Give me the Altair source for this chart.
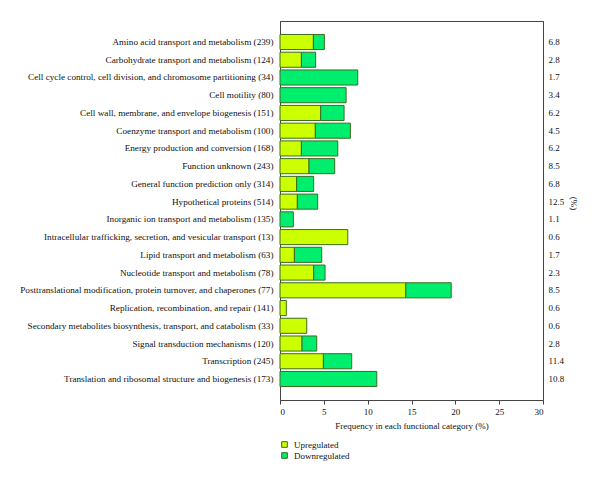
import json
import altair as alt
import pandas as pd

categories = [
    "Amino acid transport and metabolism (239)",
    "Carbohydrate transport and metabolism (124)",
    "Cell cycle control, cell division, and chromosome partitioning (34)",
    "Cell motility (80)",
    "Cell wall, membrane, and envelope biogenesis (151)",
    "Coenzyme transport and metabolism (100)",
    "Energy production and conversion (168)",
    "Function unknown (243)",
    "General function prediction only (314)",
    "Hypothetical proteins (514)",
    "Inorganic ion transport and metabolism (135)",
    "Intracellular trafficking, secretion, and vesicular transport (13)",
    "Lipid transport and metabolism (63)",
    "Nucleotide transport and metabolism (78)",
    "Posttranslational modification, protein turnover, and chaperones (77)",
    "Replication, recombination, and repair (141)",
    "Secondary metabolites biosynthesis, transport, and catabolism (33)",
    "Signal transduction mechanisms (120)",
    "Transcription (245)",
    "Translation and ribosomal structure and biogenesis (173)",
]
upregulated = [3.81, 2.44, 0, 0, 4.64, 4.03, 2.44, 3.31, 1.90, 1.98,
               0, 7.73, 1.64, 3.84, 14.35, 0.72, 3.05, 2.51, 4.95, 0]
downregulated = [1.25, 1.63, 8.87, 7.54, 2.67, 4.00, 4.15, 2.93, 1.94, 2.32,
                 1.52, 0, 3.12, 1.30, 5.18, 0, 0, 1.68, 3.23, 11.04]
percent_labels = ["6.8", "2.8", "1.7", "3.4", "6.2", "4.5", "6.2", "8.5", "6.8", "12.5",
                  "1.1", "0.6", "1.7", "2.3", "8.5", "0.6", "0.6", "2.8", "11.4", "10.8"]
series = ["Upregulated", "Downregulated"]
colors = ["#ccff00", "#00ee6e"]

rows = []
for c, u, d in zip(categories, upregulated, downregulated):
    if u > 0:
        rows.append({"category": c, "series": "Upregulated", "order": 0, "value": u})
    if d > 0:
        rows.append({"category": c, "series": "Downregulated", "order": 1, "value": d})
df = pd.DataFrame(rows)

FONT = "Liberation Serif"
FS = 9

y_scale = alt.Scale(domain=categories, paddingInner=0.15, paddingOuter=0.76)
x_scale = alt.Scale(domain=[0, 30], nice=False)
x_axis = alt.Axis(title="Frequency in each functional category (%)",
                  values=[0, 5, 10, 15, 20, 25, 30], grid=False,
                  tickSize=4, labelPadding=3, titlePadding=5)

bars = alt.Chart(df).mark_bar(stroke="#3d6b1f", strokeWidth=1).encode(
    x=alt.X("value:Q", stack="zero", scale=x_scale, axis=x_axis),
    y=alt.Y("category:N", sort=categories, scale=y_scale,
            axis=alt.Axis(title=None, orient="left", ticks=False, labelPadding=7,
                          labelLimit=400, labelFontSize=9.2)),
    color=alt.Color("series:N", scale=alt.Scale(domain=series, range=colors),
                    legend=alt.Legend(title=None, orient="none", legendX=0, legendY=419,
                                      symbolType="square", symbolSize=32,
                                      symbolStrokeColor="#3d6b1f", symbolStrokeWidth=1,
                                      rowPadding=0, labelOffset=5)),
    order=alt.Order("order:Q"),
)

label_expr = "{}[indexof({}, datum.value)]".format(json.dumps(percent_labels), json.dumps(categories))

right = alt.Chart(df).mark_bar(opacity=0).encode(
    x=alt.X("value:Q", scale=x_scale, axis=x_axis),
    y=alt.Y("category:N", sort=categories, scale=y_scale,
            axis=alt.Axis(title="(%)", orient="right", ticks=False, labelPadding=5,
                          labelExpr=label_expr, titlePadding=5, titleY=182,
                          titleFontWeight="normal")),
)

chart = alt.layer(bars, right).resolve_axis(y="independent").properties(
    width=263, height=379,
    autosize=alt.AutoSizeParams(type="none"),
    padding={"left": 272, "top": 13, "right": 45, "bottom": 75},
).configure(font=FONT).configure_view(
    stroke="#444444", strokeWidth=1
).configure_axis(
    labelFont=FONT, titleFont=FONT, labelFontSize=FS, titleFontSize=FS,
    labelColor="#111111", titleColor="#111111", titleFontWeight="normal",
    domainColor="#444444", tickColor="#444444",
).configure_legend(
    labelFont=FONT, labelFontSize=FS, labelColor="#111111",
)

chart.save("out.html", embed_options={"renderer": "svg", "actions": False})
